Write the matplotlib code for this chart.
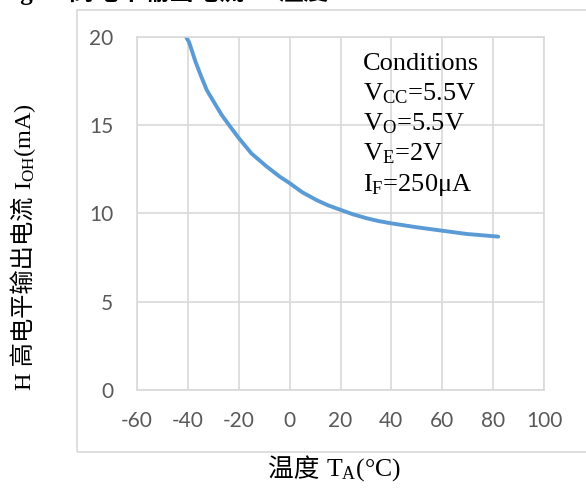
import matplotlib
matplotlib.use('Agg')
import matplotlib.pyplot as plt
from matplotlib.patches import Rectangle

# curve
temp = [-40.7, -39.5, -38.5, -37.0, -35.0, -32.6, -29.5, -26.7, -23.0, -19.9, -15.0, -9.0, -4.0, 0.2,
        5.0, 10.6, 15.0, 20.1, 25.0, 30.3, 35.0, 40.1, 49.9, 59.8, 69.6, 82.0]
ioh = [20.0, 19.7, 19.26, 18.6, 17.85, 17.0, 16.25, 15.58, 14.85, 14.26, 13.4, 12.66, 12.1, 11.7,
       11.2, 10.76, 10.47, 10.2, 9.95, 9.73, 9.57, 9.44, 9.22, 9.03, 8.84, 8.69]

x_ticks = [-60, -40, -20, 0, 20, 40, 60, 80, 100]
y_ticks = [0, 5, 10, 15, 20]

cond_lines = ['Conditions',
              r'$\mathregular{V_{CC}}$=5.5V',
              r'$\mathregular{V_{O}}$=5.5V',
              r'$\mathregular{V_{E}}$=2V',
              r'$\mathregular{I_{F}}$=250μA']

plt.rcParams['mathtext.fontset'] = 'custom'
plt.rcParams['mathtext.rm'] = 'Liberation Serif'
plt.rcParams['axes.unicode_minus'] = False
serif = ['Liberation Serif', 'Noto Sans CJK SC']

W, H = 586, 491
fig = plt.figure(figsize=(W / 100, H / 100), dpi=100)
ax = fig.add_axes([137 / W, 1 - 390 / H, (544 - 137) / W, (390 - 37) / H])

# outer chart frame (light gray, like excel)
fig.patches.append(Rectangle((77 / W, 1 - 452 / H), 1.0, (452 - 10) / H,
                             transform=fig.transFigure, fill=False,
                             edgecolor='#D9D9D9', linewidth=1.2))

ax.plot(temp, ioh, color='#5B9BD5', linewidth=2.8, solid_capstyle='round')

ax.set_xlim(-60, 100)
ax.set_ylim(0, 20)
ax.set_xticks(x_ticks)
ax.set_yticks(y_ticks)
ax.grid(True, color='#D9D9D9', linewidth=1.2)
ax.set_axisbelow(True)
for s in ax.spines.values():
    s.set_color('#D9D9D9')
    s.set_linewidth(1.2)
ax.tick_params(length=0, labelsize=15, labelcolor='#595959', labelfontfamily='Lato')
ax.tick_params(axis='x', pad=15)
ax.tick_params(axis='y', pad=17)

# axis titles: chinese part as plain text, subscript part as mathtext next to it
yl = fig.text(24 / W, 1 - 390 / H, 'H 高电平输出电流 ', rotation=90,
              ha='center', va='bottom', fontsize=17.5, family=serif)
ax.annotate(r'$\mathregular{I_{OH}}$(mA)', xy=(0.55, 1.0), xycoords=yl, rotation=90,
            ha='center', va='bottom', fontsize=17.5, family=serif)

xl = fig.text(268 / W, 1 - 470 / H, '温度 ', ha='left', va='center', fontsize=18.5, family=serif)
ax.annotate(r'$\mathregular{T_{A}}$(°C)', xy=(1.0, 0.5), xycoords=xl,
            ha='left', va='center', fontsize=18.5, family=serif)

# conditions box text
base = [70, 100, 130, 160, 191]
for txt, yb in zip(cond_lines, base):
    fig.text(363 / W, 1 - yb / H, txt, ha='left', va='baseline', fontsize=19, family=serif)

# figure title, mostly cut off at the top edge like the reference
fig.text(-2 / W, 1.0, 'Fig.11 高电平输出电流 vs 温度', ha='left', va='baseline',
         fontsize=18, fontweight='bold', family=serif)

fig.savefig('out.png', dpi=100)
